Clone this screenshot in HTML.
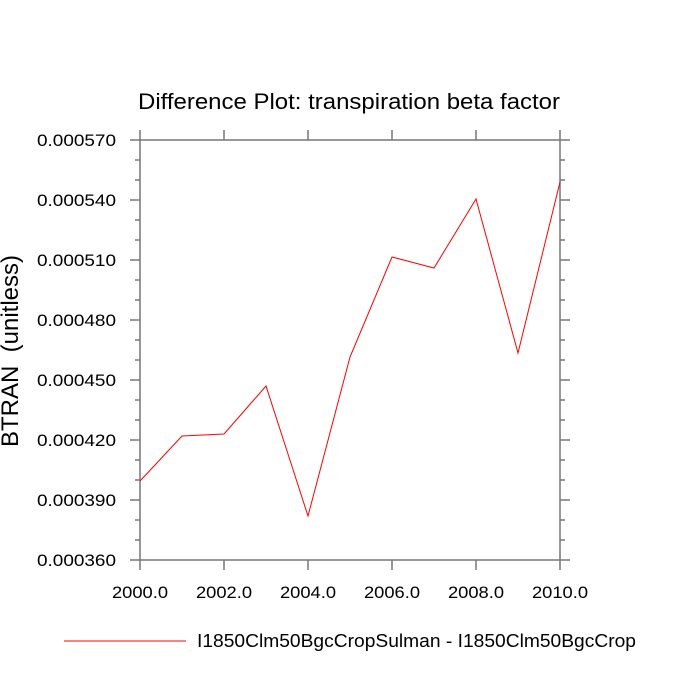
<!DOCTYPE html>
<html><head><meta charset="utf-8"><style>body{margin:0;background:#fff}svg{display:block}text{font-family:"Liberation Sans",Arial,sans-serif;fill:#000}</style></head>
<body>
<svg id="chart" width="700" height="700" xmlns="http://www.w3.org/2000/svg">
<text x="349" y="109" font-size="22" text-anchor="middle" textLength="422" lengthAdjust="spacingAndGlyphs">Difference Plot: transpiration beta factor</text>
<text transform="translate(18,351) rotate(-90)" font-size="24" text-anchor="middle" textLength="192" lengthAdjust="spacingAndGlyphs" style="white-space:pre">BTRAN  (unitless)</text>
<g id="axes"></g>
<g id="series"></g>
<line x1="64" y1="641" x2="186" y2="641" stroke="#ff0000" stroke-width="1"/>
<text x="197" y="647" font-size="18" textLength="439" lengthAdjust="spacingAndGlyphs">I1850Clm50BgcCropSulman - I1850Clm50BgcCrop</text>
</svg>
<script>
const years=[2000,2001,2002,2003,2004,2005,2006,2007,2008,2009,2010];
const values=[0.0003995,0.000422,0.000423,0.000447,0.000382,0.0004615,0.0005115,0.000506,0.0005405,0.0004635,0.000549];
const yTicks=[0.00036,0.00039,0.00042,0.00045,0.00048,0.00051,0.00054,0.00057];
const xTicks=[2000,2002,2004,2006,2008,2010];
const L=140,R=560,T=140,B=560;
const xs=v=>L+(v-2000)/10*(R-L);
const ys=v=>B-(v-0.00036)/(0.00021)*(B-T);
const NS="http://www.w3.org/2000/svg";
const ax=document.getElementById('axes');
function ln(x1,y1,x2,y2,name){const e=document.createElementNS(NS,'line');
e.setAttribute('x1',x1);e.setAttribute('y1',y1);e.setAttribute('x2',x2);e.setAttribute('y2',y2);
e.setAttribute('stroke','#777');e.setAttribute('stroke-width','1.5');


ax.appendChild(e);}
ln(L,T,R,T,'frame-top');ln(L,B,R,B,'frame-bottom');ln(L,T,L,B,'frame-left');ln(R,T,R,B,'frame-right');
yTicks.forEach(v=>{const y=ys(v);ln(L-10,y,L,y,'y-tick');ln(R,y,R+10,y,'y-tick-right');
const t=document.createElementNS(NS,'text');t.setAttribute('x',L-24);t.setAttribute('y',y+6);t.setAttribute('font-size','17');t.setAttribute('text-anchor','end');t.setAttribute('textLength','79');t.setAttribute('lengthAdjust','spacingAndGlyphs');t.textContent=v.toFixed(6);


ax.appendChild(t);});
for(let i=0;i<yTicks.length-1;i++){for(let k=1;k<3;k++){const y=ys(yTicks[i]+k*0.00001);ln(L-5,y,L,y,'y-minor-tick');ln(R,y,R+5,y,'y-minor-tick-right');}}
xTicks.forEach(v=>{const x=xs(v);ln(x,B,x,B+10,'x-tick');ln(x,T-10,x,T,'x-tick-top');
const t=document.createElementNS(NS,'text');t.setAttribute('x',x);t.setAttribute('y',B+38);t.setAttribute('font-size','17');t.setAttribute('text-anchor','middle');t.setAttribute('textLength','56');t.setAttribute('lengthAdjust','spacingAndGlyphs');t.textContent=v.toFixed(1);


ax.appendChild(t);});
const p=document.createElementNS(NS,'polyline');
p.setAttribute('points',years.map((y,i)=>xs(y)+','+ys(values[i])).join(' '));
p.setAttribute('fill','none');p.setAttribute('stroke','#ff0000');p.setAttribute('stroke-width','1');


document.getElementById('series').appendChild(p);
</script>
</body></html>
